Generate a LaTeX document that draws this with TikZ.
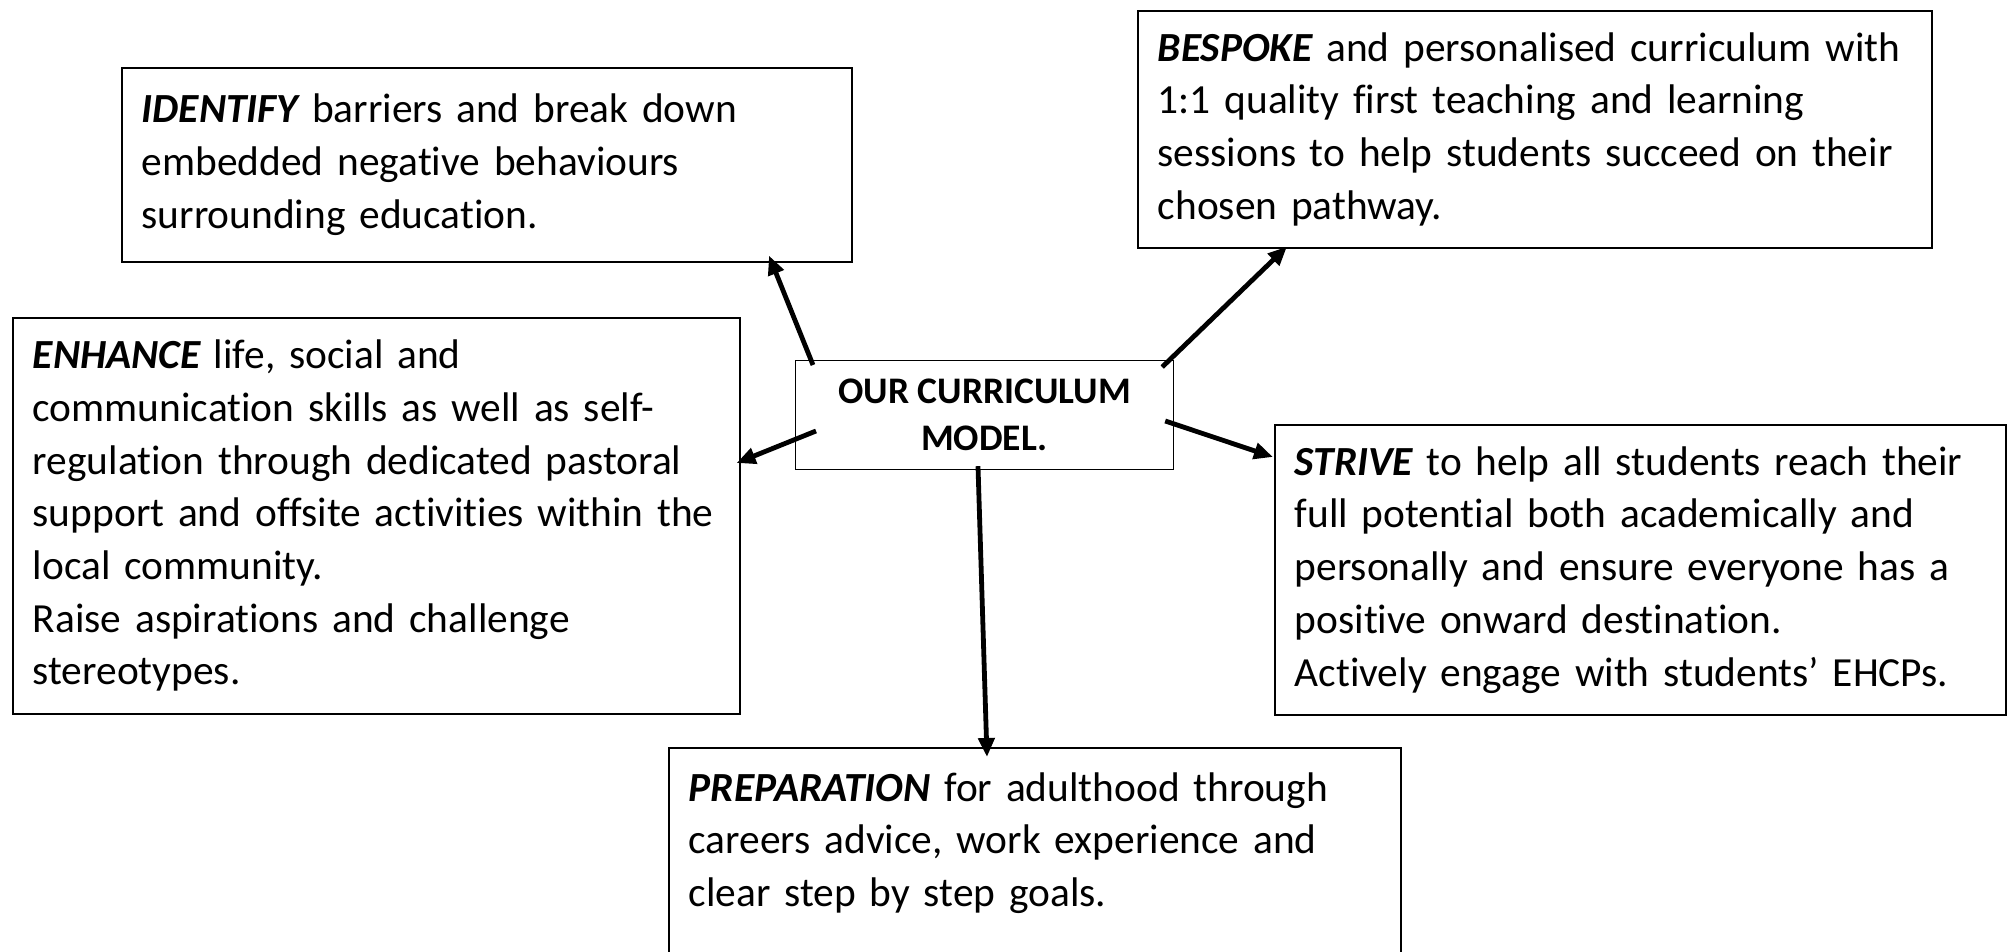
\documentclass[tikz,border=0pt]{standalone}
\usepackage{fontspec}
\setmainfont{Carlito}[Ligatures=NoCommon]
\usetikzlibrary{arrows.meta}
\newcommand{\keyword}[1]{{\bfseries\itshape #1}}

\tikzset{
    box/.style={draw, line width=0.8pt, anchor=north west, align=left,
        inner xsep=10pt, inner ysep=0pt, font=\fontsize{20.7}{26.35}\selectfont},
    hub/.style={draw, line width=0.6pt, anchor=north west, align=center,
        inner sep=0pt, font=\fontsize{18.75}{23.5}\selectfont\bfseries},
    arrow/.style={->, >={Triangle[length=9.5pt,width=8pt]}, line width=2.4pt},
}

\begin{document}
\begin{tikzpicture}[x=0.5pt, y=-0.5pt]
    \path[fill=white] (0,0) rectangle (2015,952);
    \useasboundingbox (0,0) rectangle (2015,952);

    \node[hub, minimum width=189pt, minimum height=54.5pt](model) at (795,360)
        {OUR CURRICULUM\\MODEL.};

    \node[box, text width=345pt, minimum height=97pt](ident)      at (121,67)
        {\keyword{IDENTIFY} barriers and break down\\
         embedded negative behaviours\\
         surrounding education.};
    \node[box, text width=377pt, minimum height=118.5pt](bespoke) at (1137,10)
        {\keyword{BESPOKE} and personalised curriculum with\\
         1:1 quality first teaching and learning\\
         sessions to help students succeed on their\\
         chosen pathway.};
    \node[box, text width=343.5pt, minimum height=198pt](enhance) at (12,317)
        {\keyword{ENHANCE} life, social and\\
         communication skills as well as self-\\
         regulation through dedicated pastoral\\
         support and offsite activities within the\\
         local community.\\
         Raise aspirations and challenge\\
         stereotypes.};
    \node[box, text width=345.5pt, minimum height=145pt](strive)  at (1274,424)
        {\keyword{STRIVE} to help all students reach their\\
         full potential both academically and\\
         personally and ensure everyone has a\\
         positive onward destination.\\
         Actively engage with students’ EHCPs.};
    \node[box, text width=346pt, minimum height=118pt](prep)      at (668,747)
        {\keyword{PREPARATION} for adulthood through\\
         careers advice, work experience and\\
         clear step by step goals.\\
         \mbox{}};

    % Arrows
    \path
        ([xshift=9pt,yshift=-2.5pt]model.north west)
            edge [arrow] ([xshift=324pt,yshift=3.5pt]ident.south west)
        ([xshift=10.5pt,yshift=-35.5pt]model.north west)
            edge [arrow] ([xshift=-2pt,yshift=-73pt]enhance.north east)
        ([xshift=-6pt,yshift=-3.5pt]model.north east)
            edge [arrow] ([xshift=75pt,yshift=1pt]bespoke.south west)
        ([xshift=-4.5pt,yshift=-30.5pt]model.north east)
            edge [arrow] ([xshift=-0.5pt,yshift=-16.5pt]strive.north west)
        ([xshift=91.5pt,yshift=2pt]model.south west)
            edge [arrow] ([xshift=159.5pt,yshift=-5pt]prep.north west)
        ;
\end{tikzpicture}
\end{document}
